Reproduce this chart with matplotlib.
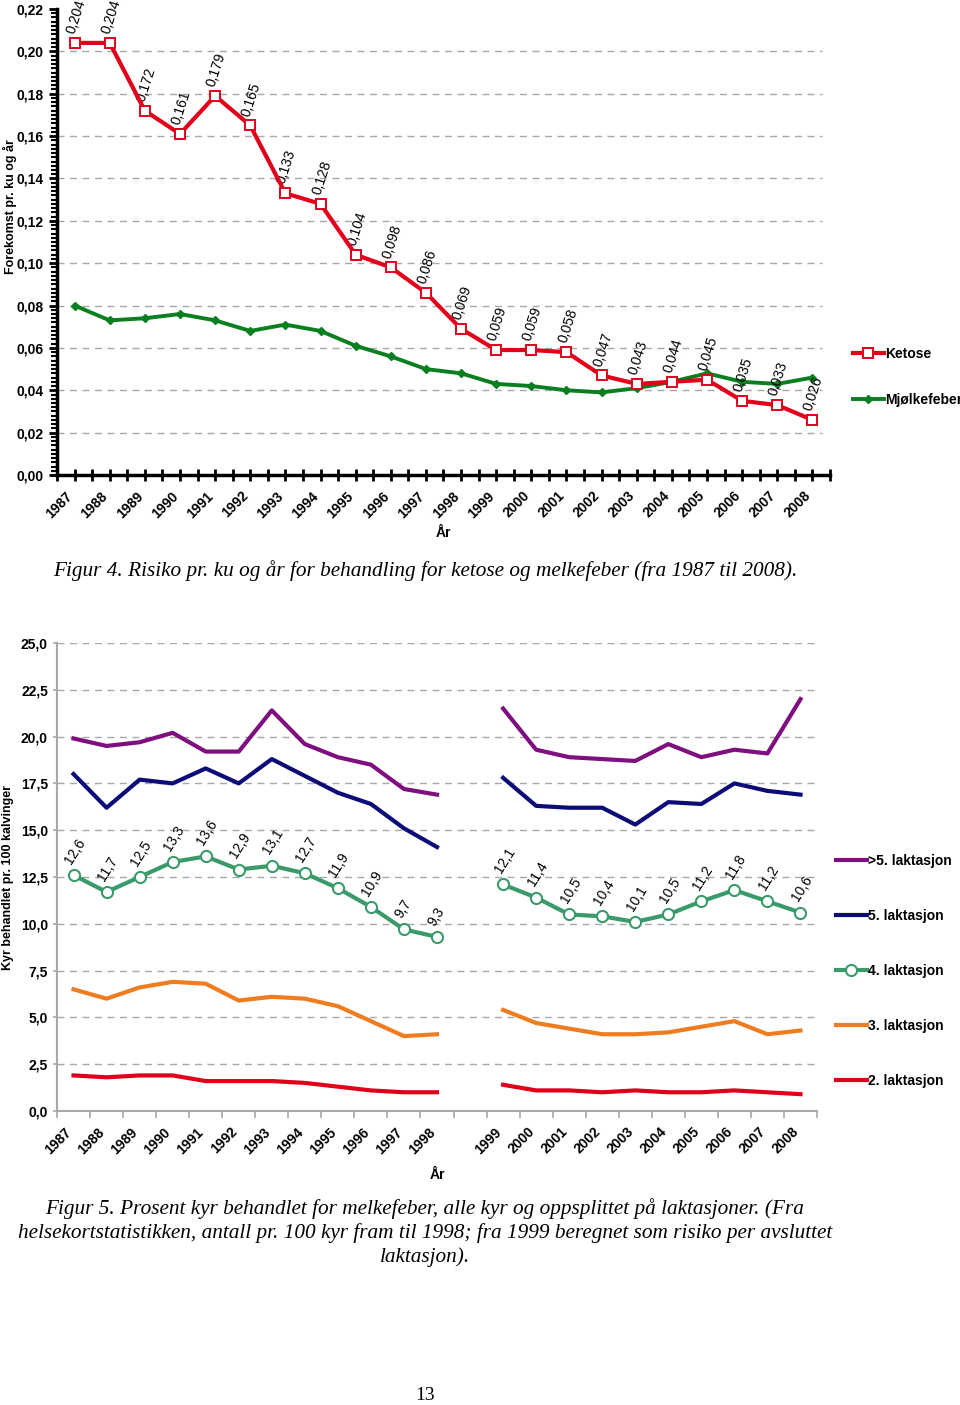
"""
Ketose / mjølkefeber figures (Figur 4 and Figur 5) redrawn with matplotlib.
"""
import numpy as np
import matplotlib.pyplot as plt
import matplotlib.transforms as mtransforms
from matplotlib.ticker import MultipleLocator, FuncFormatter, FixedLocator

# ---- data: Figur 4 ----
years = list(range(1987, 2009))
ketose = [0.204, 0.204, 0.172, 0.161, 0.179, 0.165, 0.133, 0.128, 0.104, 0.098, 0.086,
          0.069, 0.059, 0.059, 0.058, 0.047, 0.043, 0.044, 0.045, 0.035, 0.033, 0.026]
mjolkefeber = [0.080, 0.073, 0.074, 0.076, 0.073, 0.068, 0.071, 0.068, 0.061, 0.056, 0.050,
               0.048, 0.043, 0.042, 0.040, 0.039, 0.041, 0.044, 0.048, 0.044, 0.043, 0.046]

# ---- data: Figur 5 (two periods, gap between 1998 and 1999) ----
years_a = list(range(1987, 1999))
years_b = list(range(1999, 2009))
lak_gt5_a = [19.9, 19.5, 19.7, 20.2, 19.2, 19.2, 21.4, 19.6, 18.9, 18.5, 17.2, 16.9]
lak_gt5_b = [21.5, 19.3, 18.9, 18.8, 18.7, 19.6, 18.9, 19.3, 19.1, 22.0]
lak5_a = [18.0, 16.2, 17.7, 17.5, 18.3, 17.5, 18.8, 17.9, 17.0, 16.4, 15.1, 14.1]
lak5_b = [17.8, 16.3, 16.2, 16.2, 15.3, 16.5, 16.4, 17.5, 17.1, 16.9]
lak4_a = [12.6, 11.7, 12.5, 13.3, 13.6, 12.9, 13.1, 12.7, 11.9, 10.9, 9.7, 9.3]
lak4_b = [12.1, 11.4, 10.5, 10.4, 10.1, 10.5, 11.2, 11.8, 11.2, 10.6]
lak3_a = [6.5, 6.0, 6.6, 6.9, 6.8, 5.9, 6.1, 6.0, 5.6, 4.8, 4.0, 4.1]
lak3_b = [5.4, 4.7, 4.4, 4.1, 4.1, 4.2, 4.5, 4.8, 4.1, 4.3]
lak2_a = [1.9, 1.8, 1.9, 1.9, 1.6, 1.6, 1.6, 1.5, 1.3, 1.1, 1.0, 1.0]
lak2_b = [1.4, 1.1, 1.1, 1.0, 1.1, 1.0, 1.0, 1.1, 1.0, 0.9]

plt.rcParams['font.family'] = ['Liberation Sans', 'DejaVu Sans']

W, H = 960, 1405
fig = plt.figure(figsize=(W / 100, H / 100), dpi=100)
shift_left = mtransforms.ScaledTranslation(-9 / 100, 0, fig.dpi_scale_trans)


def comma(fmt):
    return FuncFormatter(lambda v, pos: format(v, fmt).replace('.', ','))


# ================= Figur 4 =================
red = '#e2001a'
green = '#0a7f1f'
ax1 = fig.add_axes([57 / W, 930 / H, 773 / W, 466 / H])
x1 = np.arange(len(years))

for v in np.arange(0.02, 0.21, 0.02):
    ax1.axhline(v, xmax=0.99, color='#a8a8a8', lw=1, ls=(0, (5, 4)), zorder=0)

ax1.plot(x1, mjolkefeber, color=green, lw=2.8, marker='D', ms=4.5,
         mfc=green, mec=green, label='Mjølkefeber', zorder=3)
ax1.plot(x1, ketose, color=red, lw=3, marker='s', ms=6.5, mfc='white',
         mec=red, mew=1.4, label='Ketose', zorder=4)

for xi, v in zip(x1, ketose):
    ax1.annotate(format(v, '.3f').replace('.', ','), (xi, v), xytext=(-3, 7),
                 textcoords='offset points', rotation=72, rotation_mode='anchor',
                 ha='left', va='center', fontsize=10, clip_on=False)

ax1.set_xlim(-0.5, len(years) - 0.5)
ax1.set_ylim(0, 0.22)
ax1.yaxis.set_major_locator(MultipleLocator(0.02))
ax1.yaxis.set_minor_locator(MultipleLocator(0.002))
ax1.yaxis.set_major_formatter(comma('.2f'))
ax1.set_xticks(x1)
ax1.xaxis.set_minor_locator(FixedLocator(np.arange(-0.5, len(years), 1.0)))
ax1.tick_params(axis='x', which='both', direction='inout', length=8, width=2, pad=6)
ax1.tick_params(axis='y', which='major', direction='out', length=6, width=2)
ax1.tick_params(axis='y', which='minor', direction='out', length=4, width=1.5)
ax1.set_xticklabels([str(y) for y in years], rotation=45, ha='right',
                    rotation_mode='anchor', fontweight='bold', fontsize=10)
for lab in ax1.get_xticklabels():
    lab.set_transform(lab.get_transform() + shift_left)
for lab in ax1.get_yticklabels():
    lab.set_fontweight('bold')
    lab.set_fontsize(10)
for s in ['top', 'right']:
    ax1.spines[s].set_visible(False)
for s in ['left', 'bottom']:
    ax1.spines[s].set_linewidth(2.5)
ax1.set_xlabel('År', fontweight='bold', fontsize=10, labelpad=4)
fig.text(10 / W, 1 - 207 / H, 'Forekomst pr. ku og år', rotation=90,
         ha='center', va='center', fontweight='bold', fontsize=9)

h, l = ax1.get_legend_handles_labels()
fig.legend(h[::-1], l[::-1], loc='upper left', bbox_to_anchor=(846 / W, 1 - 340 / H),
           frameon=False, borderpad=0, handlelength=2.2, handletextpad=0.1,
           labelspacing=2.3, prop={'weight': 'bold', 'size': 10})

fig.text(425 / W, 1 - 571 / H,
         'Figur 4. Risiko pr. ku og år for behandling for ketose og melkefeber (fra 1987 til 2008).',
         ha='center', va='center', family='Liberation Serif', style='italic', fontsize=15.3)

# ================= Figur 5 =================
purple = '#7f0f7f'
navy = '#0c0c78'
green4 = '#3a9a6a'
orange = '#ef7d1f'
red2 = '#e1001a'
grey = '#a8a8a8'

ax2 = fig.add_axes([57 / W, 294 / H, 760 / W, 468 / H])
xa = np.arange(len(years_a))
xb = np.arange(len(years_b)) + len(years_a) + 1
n_slots = len(years_a) + 1 + len(years_b)

series = [
    ('>5. laktasjon', lak_gt5_a, lak_gt5_b, purple, None),
    ('5. laktasjon', lak5_a, lak5_b, navy, None),
    ('4. laktasjon', lak4_a, lak4_b, green4, 'o'),
    ('3. laktasjon', lak3_a, lak3_b, orange, None),
    ('2. laktasjon', lak2_a, lak2_b, red2, None),
]
for name, va_, vb_, col, mk in series:
    kw = dict(color=col, lw=3, solid_joinstyle='round', zorder=3)
    if mk:
        kw.update(marker=mk, ms=8, mfc='white', mec=col, mew=1.5)
    ax2.plot(xa, va_, label=name, **kw)
    ax2.plot(xb, vb_, **kw)

for xs, vs in [(xa, lak4_a), (xb, lak4_b)]:
    for xi, v in zip(xs, vs):
        ax2.annotate(format(v, '.1f').replace('.', ','), (xi, v), xytext=(-4, 9),
                     textcoords='offset points', rotation=58, rotation_mode='anchor',
                     ha='left', va='center', fontsize=10)

ax2.set_xlim(-0.5, n_slots - 0.5)
ax2.set_ylim(0, 25)
ax2.yaxis.set_major_locator(MultipleLocator(2.5))
ax2.yaxis.set_major_formatter(comma('.1f'))
ax2.yaxis.grid(True, color=grey, lw=1, ls=(0, (5, 4)), zorder=0)
ax2.set_axisbelow(True)
tick_labels = [str(y) for y in years_a] + [''] + [str(y) for y in years_b]
ax2.set_xticks(np.arange(n_slots))
ax2.xaxis.set_minor_locator(FixedLocator(np.arange(-0.5, n_slots, 1.0)))
ax2.tick_params(axis='x', which='major', length=0, pad=10)
ax2.tick_params(axis='x', which='minor', direction='out', length=5, width=1.2, color=grey)
ax2.tick_params(axis='y', direction='out', length=3, width=1.2, color=grey)
ax2.set_xticklabels(tick_labels, rotation=45, ha='right', rotation_mode='anchor',
                    fontweight='bold', fontsize=10)
for lab in ax2.get_xticklabels():
    lab.set_transform(lab.get_transform() + shift_left)
for lab in ax2.get_yticklabels():
    lab.set_fontweight('bold')
    lab.set_fontsize(10)
for s in ['top', 'right']:
    ax2.spines[s].set_visible(False)
for s in ['left', 'bottom']:
    ax2.spines[s].set_color(grey)
    ax2.spines[s].set_linewidth(1.5)
ax2.set_xlabel('År', fontweight='bold', fontsize=10, labelpad=8)
fig.text(8 / W, 1 - 877 / H, 'Kyr behandlet pr. 100 kalvinger', rotation=90,
         ha='center', va='center', fontweight='bold', fontsize=9)

fig.legend(*ax2.get_legend_handles_labels(), loc='upper left',
           bbox_to_anchor=(829 / W, 1 - 847 / H), frameon=False, borderpad=0,
           handlelength=2.2, handletextpad=0.1, labelspacing=2.95,
           prop={'weight': 'bold', 'size': 10})

cap5 = ['Figur 5. Prosent kyr behandlet for melkefeber, alle kyr og oppsplittet på laktasjoner. (Fra',
        'helsekortstatistikken, antall pr. 100 kyr fram til 1998; fra 1999 beregnet som risiko per avsluttet',
        'laktasjon).']
for i, line in enumerate(cap5):
    fig.text(425 / W, 1 - (1209 + 24 * i) / H, line, ha='center', va='center',
             family='Liberation Serif', style='italic', fontsize=15.3)

fig.text(425 / W, 1 - 1395 / H, '13', ha='center', va='center',
         family='Liberation Serif', fontsize=14)

fig.savefig('out.png', dpi=100)
